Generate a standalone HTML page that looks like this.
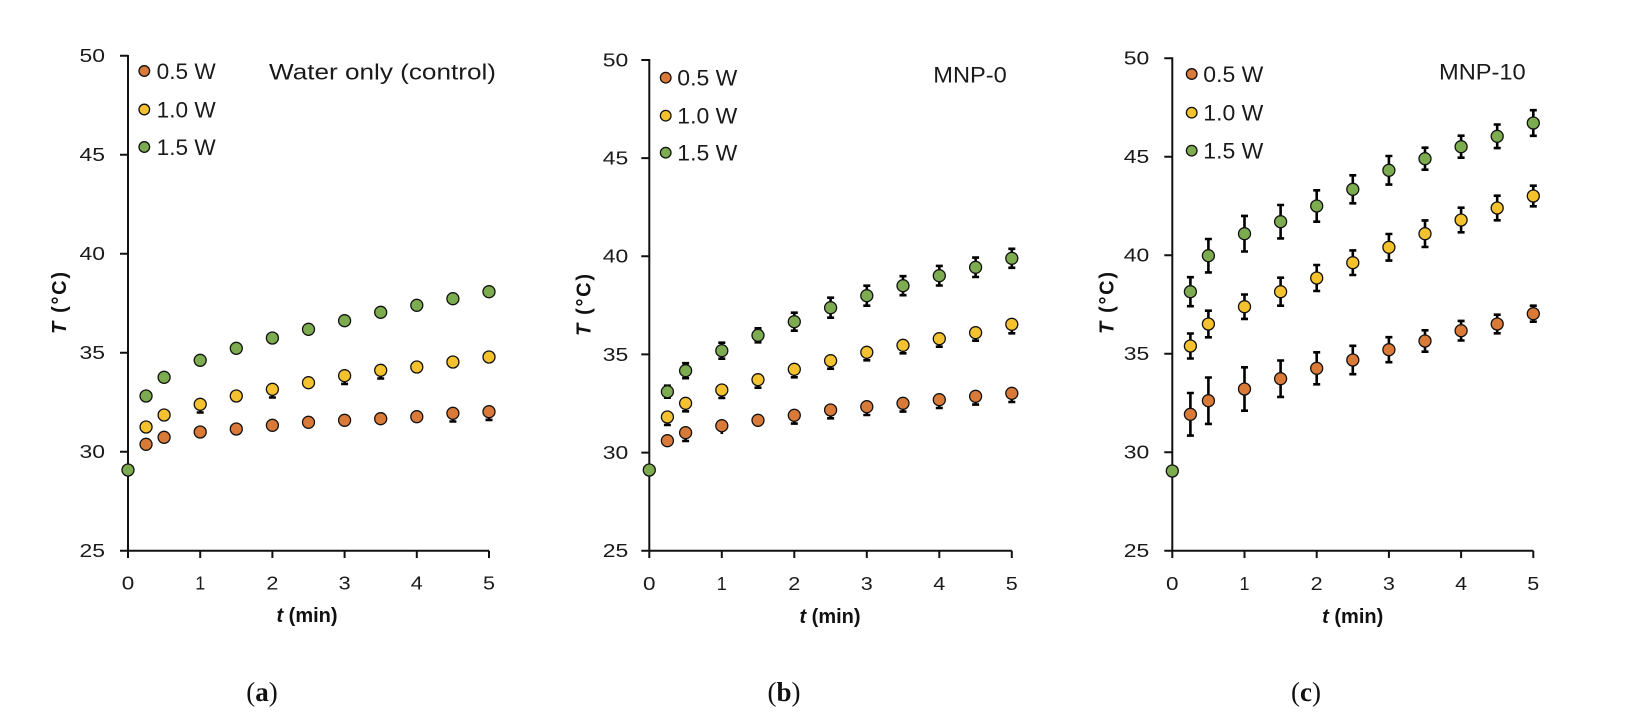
<!DOCTYPE html>
<html><head><meta charset="utf-8">
<style>
html,body{margin:0;padding:0;background:#fff}
svg{display:block}
.o{fill:#DA7A39}.y{fill:#F4C22E}.g{fill:#7DAB4F}
circle{stroke:#111;stroke-width:1.3}
.ax{stroke:#111;stroke-width:2;fill:none}
.eb{stroke:#000;stroke-width:2.6;fill:none}
.tk{font-size:18px;fill:#1a1a1a}
.lg{font-size:22px;fill:#1a1a1a}
.al{font-size:20px;font-weight:bold;fill:#111}
.cap{font-family:"Liberation Serif",serif;font-size:27px;fill:#111}
</style></head><body>
<svg width="1636" height="724" viewBox="0 0 1636 724" xmlns="http://www.w3.org/2000/svg" font-family="Liberation Sans, sans-serif">
<rect width="1636" height="724" fill="#fff"/>

<!-- ================= PANEL A ================= -->
<g>
<path class="ax" d="M128,55 V551.7 M127,550.7 H489 M120,55.7 H128 M120,154.7 H128 M120,253.7 H128 M120,352.7 H128 M120,451.7 H128 M120,550.7 H128 M128,550.7 V558 M200.2,550.7 V558 M272.4,550.7 V558 M344.6,550.7 V558 M416.8,550.7 V558 M489,550.7 V558"/>
<g class="tk" text-anchor="end">
<text x="105" y="62.1" textLength="25.5" lengthAdjust="spacingAndGlyphs">50</text>
<text x="105" y="161.1" textLength="25.5" lengthAdjust="spacingAndGlyphs">45</text>
<text x="105" y="260.1" textLength="25.5" lengthAdjust="spacingAndGlyphs">40</text>
<text x="105" y="359.1" textLength="25.5" lengthAdjust="spacingAndGlyphs">35</text>
<text x="105" y="458.1" textLength="25.5" lengthAdjust="spacingAndGlyphs">30</text>
<text x="105" y="557.1" textLength="25.5" lengthAdjust="spacingAndGlyphs">25</text>
</g>
<g class="tk" text-anchor="middle">
<text x="128" y="589.5" textLength="12.5" lengthAdjust="spacingAndGlyphs">0</text><text x="200.2" y="589.5">1</text><text x="272.4" y="589.5" textLength="12" lengthAdjust="spacingAndGlyphs">2</text><text x="344.6" y="589.5" textLength="12" lengthAdjust="spacingAndGlyphs">3</text><text x="416.8" y="589.5" textLength="12" lengthAdjust="spacingAndGlyphs">4</text><text x="489" y="589.5" textLength="12" lengthAdjust="spacingAndGlyphs">5</text>
</g>
<text class="al" transform="translate(66,303) rotate(-90)" text-anchor="middle" textLength="62"><tspan font-style="italic">T</tspan> (°C)</text>
<text class="al" x="307" y="622" text-anchor="middle"><tspan font-style="italic">t</tspan> (min)</text>
<text class="cap" x="262" y="701" text-anchor="middle">(<tspan font-weight="bold">a</tspan>)</text>
<circle class="o" cx="144.3" cy="71" r="5.3"/><circle class="y" cx="144.3" cy="109.5" r="5.3"/><circle class="g" cx="144.3" cy="147" r="5.3"/>
<text class="lg" x="156.7" y="79" textLength="59" lengthAdjust="spacingAndGlyphs">0.5 W</text>
<text class="lg" x="156.7" y="117.5" textLength="59" lengthAdjust="spacingAndGlyphs">1.0 W</text>
<text class="lg" x="156.7" y="155" textLength="59" lengthAdjust="spacingAndGlyphs">1.5 W</text>
<text class="lg" x="269" y="79.3" textLength="227" lengthAdjust="spacingAndGlyphs">Water only (control)</text>
<path class="eb" d="M200.2,404.3 V412.5 M196.7,412.5 H203.7 M272.4,389.3 V397.5 M268.9,397.5 H275.9 M344.6,375.7 V383.9 M341.1,383.9 H348.1 M380.7,370.3 V378.5 M377.2,378.5 H384.2 M452.9,413.3 V421.5 M449.4,421.5 H456.4 M489,411.7 V419.9 M485.5,419.9 H492.5"/>
<circle class="o" cx="146.05" cy="444.3" r="6"/><circle class="o" cx="164.1" cy="437.3" r="6"/><circle class="o" cx="200.2" cy="432" r="6"/><circle class="o" cx="236.3" cy="429" r="6"/><circle class="o" cx="272.4" cy="425.3" r="6"/><circle class="o" cx="308.5" cy="422.3" r="6"/><circle class="o" cx="344.6" cy="420.3" r="6"/><circle class="o" cx="380.7" cy="418.7" r="6"/><circle class="o" cx="416.8" cy="416.7" r="6"/><circle class="o" cx="452.9" cy="413.3" r="6"/><circle class="o" cx="489" cy="411.7" r="6"/>
<circle class="y" cx="146.05" cy="427" r="6"/><circle class="y" cx="164.1" cy="415" r="6"/><circle class="y" cx="200.2" cy="404.3" r="6"/><circle class="y" cx="236.3" cy="396" r="6"/><circle class="y" cx="272.4" cy="389.3" r="6"/><circle class="y" cx="308.5" cy="382.7" r="6"/><circle class="y" cx="344.6" cy="375.7" r="6"/><circle class="y" cx="380.7" cy="370.3" r="6"/><circle class="y" cx="416.8" cy="367" r="6"/><circle class="y" cx="452.9" cy="362" r="6"/><circle class="y" cx="489" cy="357" r="6"/>
<circle class="g" cx="128" cy="470" r="6"/><circle class="g" cx="146.05" cy="396" r="6"/><circle class="g" cx="164.1" cy="377.3" r="6"/><circle class="g" cx="200.2" cy="360.3" r="6"/><circle class="g" cx="236.3" cy="348.3" r="6"/><circle class="g" cx="272.4" cy="338" r="6"/><circle class="g" cx="308.5" cy="329.3" r="6"/><circle class="g" cx="344.6" cy="320.7" r="6"/><circle class="g" cx="380.7" cy="312.3" r="6"/><circle class="g" cx="416.8" cy="305.3" r="6"/><circle class="g" cx="452.9" cy="298.7" r="6"/><circle class="g" cx="489" cy="291.7" r="6"/>
</g>

<!-- ================= PANEL B ================= -->
<g>
<path class="ax" d="M649.3,59 V551.7 M648.3,550.7 H1011.8 M641.3,60 H649.3 M641.3,158.1 H649.3 M641.3,256.3 H649.3 M641.3,354.4 H649.3 M641.3,452.6 H649.3 M641.3,550.7 H649.3 M649.3,550.7 V558 M721.8,550.7 V558 M794.3,550.7 V558 M866.8,550.7 V558 M939.3,550.7 V558 M1011.8,550.7 V558"/>
<g class="tk" text-anchor="end">
<text x="628.3" y="66.4" textLength="25.5" lengthAdjust="spacingAndGlyphs">50</text>
<text x="628.3" y="164.5" textLength="25.5" lengthAdjust="spacingAndGlyphs">45</text>
<text x="628.3" y="262.7" textLength="25.5" lengthAdjust="spacingAndGlyphs">40</text>
<text x="628.3" y="360.8" textLength="25.5" lengthAdjust="spacingAndGlyphs">35</text>
<text x="628.3" y="459" textLength="25.5" lengthAdjust="spacingAndGlyphs">30</text>
<text x="628.3" y="557.1" textLength="25.5" lengthAdjust="spacingAndGlyphs">25</text>
</g>
<g class="tk" text-anchor="middle">
<text x="649.3" y="590" textLength="12.5" lengthAdjust="spacingAndGlyphs">0</text><text x="721.8" y="590">1</text><text x="794.3" y="590" textLength="12" lengthAdjust="spacingAndGlyphs">2</text><text x="866.8" y="590" textLength="12" lengthAdjust="spacingAndGlyphs">3</text><text x="939.3" y="590" textLength="12" lengthAdjust="spacingAndGlyphs">4</text><text x="1011.8" y="590" textLength="12" lengthAdjust="spacingAndGlyphs">5</text>
</g>
<text class="al" transform="translate(590.3,305) rotate(-90)" text-anchor="middle" textLength="62"><tspan font-style="italic">T</tspan> (°C)</text>
<text class="al" x="830" y="623" text-anchor="middle"><tspan font-style="italic">t</tspan> (min)</text>
<text class="cap" x="784" y="701" text-anchor="middle">(<tspan font-weight="bold">b</tspan>)</text>
<circle class="o" cx="665.7" cy="77.7" r="5.3"/><circle class="y" cx="665.7" cy="115.7" r="5.3"/><circle class="g" cx="665.7" cy="152.7" r="5.3"/>
<text class="lg" x="677.3" y="85.7" textLength="60" lengthAdjust="spacingAndGlyphs">0.5 W</text>
<text class="lg" x="677.3" y="123.7" textLength="60" lengthAdjust="spacingAndGlyphs">1.0 W</text>
<text class="lg" x="677.3" y="160.7" textLength="60" lengthAdjust="spacingAndGlyphs">1.5 W</text>
<text class="lg" x="933.3" y="82.3" textLength="73.4" lengthAdjust="spacingAndGlyphs">MNP-0</text>
<path class="eb" d="
M667.4,385.7 V397.7 M663.9,385.7 H670.9 M663.9,397.7 H670.9
M685.6,363.2 V378.2 M682.1,363.2 H689.1 M682.1,378.2 H689.1
M721.8,342.7 V358.7 M718.3,342.7 H725.3 M718.3,358.7 H725.3
M758,328.3 V342.3 M754.5,328.3 H761.5 M754.5,342.3 H761.5
M794.3,312.7 V330.7 M790.8,312.7 H797.8 M790.8,330.7 H797.8
M830.6,297.7 V317.7 M827.1,297.7 H834.1 M827.1,317.7 H834.1
M866.8,285.7 V305.7 M863.3,285.7 H870.3 M863.3,305.7 H870.3
M903,276.2 V295.2 M899.5,276.2 H906.5 M899.5,295.2 H906.5
M939.3,265.9 V285.5 M935.8,265.9 H942.8 M935.8,285.5 H942.8
M975.6,257.6 V277 M972.1,257.6 H979.1 M972.1,277 H979.1
M1011.8,248.8 V267.8 M1008.3,248.8 H1015.3 M1008.3,267.8 H1015.3
M667.4,417 V425 M663.9,425 H670.9 M685.6,403.3 V411.3 M682.1,411.3 H689.1 M721.8,390 V398 M718.3,398 H725.3 M758,379.7 V387.7 M754.5,387.7 H761.5 M794.3,369.3 V377.3 M790.8,377.3 H797.8 M830.6,360.7 V368.7 M827.1,368.7 H834.1 M866.8,352.3 V360.3 M863.3,360.3 H870.3 M903,345.3 V353.3 M899.5,353.3 H906.5 M939.3,338.7 V346.7 M935.8,346.7 H942.8 M975.6,332.7 V340.7 M972.1,340.7 H979.1 M1011.8,324.3 V333.3 M1008.3,333.3 H1015.3
M685.6,432.7 V441 M682.1,441 H689.1 M721.8,425.7 V434 M794.3,415.3 V423.6 M790.8,423.6 H797.8 M830.6,410 V418.3 M827.1,418.3 H834.1 M866.8,406.7 V415 M863.3,415 H870.3 M903,403.3 V411.6 M899.5,411.6 H906.5 M939.3,399.7 V408 M935.8,408 H942.8 M975.6,396.3 V404.6 M972.1,404.6 H979.1 M1011.8,393.3 V402 M1008.3,402 H1015.3"/>
<circle class="o" cx="667.4" cy="440.7" r="6"/><circle class="o" cx="685.6" cy="432.7" r="6"/><circle class="o" cx="721.8" cy="425.7" r="6"/><circle class="o" cx="758" cy="420.3" r="6"/><circle class="o" cx="794.3" cy="415.3" r="6"/><circle class="o" cx="830.6" cy="410" r="6"/><circle class="o" cx="866.8" cy="406.7" r="6"/><circle class="o" cx="903" cy="403.3" r="6"/><circle class="o" cx="939.3" cy="399.7" r="6"/><circle class="o" cx="975.6" cy="396.3" r="6"/><circle class="o" cx="1011.8" cy="393.3" r="6"/>
<circle class="y" cx="667.4" cy="417" r="6"/><circle class="y" cx="685.6" cy="403.3" r="6"/><circle class="y" cx="721.8" cy="390" r="6"/><circle class="y" cx="758" cy="379.7" r="6"/><circle class="y" cx="794.3" cy="369.3" r="6"/><circle class="y" cx="830.6" cy="360.7" r="6"/><circle class="y" cx="866.8" cy="352.3" r="6"/><circle class="y" cx="903" cy="345.3" r="6"/><circle class="y" cx="939.3" cy="338.7" r="6"/><circle class="y" cx="975.6" cy="332.7" r="6"/><circle class="y" cx="1011.8" cy="324.3" r="6"/>
<circle class="g" cx="649.3" cy="470" r="6"/><circle class="g" cx="667.4" cy="391.7" r="6"/><circle class="g" cx="685.6" cy="370.7" r="6"/><circle class="g" cx="721.8" cy="350.7" r="6"/><circle class="g" cx="758" cy="335.3" r="6"/><circle class="g" cx="794.3" cy="321.7" r="6"/><circle class="g" cx="830.6" cy="307.7" r="6"/><circle class="g" cx="866.8" cy="295.7" r="6"/><circle class="g" cx="903" cy="285.7" r="6"/><circle class="g" cx="939.3" cy="275.7" r="6"/><circle class="g" cx="975.6" cy="267.3" r="6"/><circle class="g" cx="1011.8" cy="258.3" r="6"/>
</g>

<!-- ================= PANEL C ================= -->
<g>
<path class="ax" d="M1172.3,57.3 V551.7 M1171.3,550.7 H1533.3 M1164.3,58.3 H1172.3 M1164.3,156.8 H1172.3 M1164.3,255.2 H1172.3 M1164.3,353.7 H1172.3 M1164.3,452.2 H1172.3 M1164.3,550.7 H1172.3 M1172.3,550.7 V558 M1244.5,550.7 V558 M1316.7,550.7 V558 M1388.9,550.7 V558 M1461.1,550.7 V558 M1533.3,550.7 V558"/>
<g class="tk" text-anchor="end">
<text x="1149.3" y="64.7" textLength="25.5" lengthAdjust="spacingAndGlyphs">50</text>
<text x="1149.3" y="163.2" textLength="25.5" lengthAdjust="spacingAndGlyphs">45</text>
<text x="1149.3" y="261.6" textLength="25.5" lengthAdjust="spacingAndGlyphs">40</text>
<text x="1149.3" y="360.1" textLength="25.5" lengthAdjust="spacingAndGlyphs">35</text>
<text x="1149.3" y="458.6" textLength="25.5" lengthAdjust="spacingAndGlyphs">30</text>
<text x="1149.3" y="557.1" textLength="25.5" lengthAdjust="spacingAndGlyphs">25</text>
</g>
<g class="tk" text-anchor="middle">
<text x="1172.3" y="590" textLength="12.5" lengthAdjust="spacingAndGlyphs">0</text><text x="1244.5" y="590">1</text><text x="1316.7" y="590" textLength="12" lengthAdjust="spacingAndGlyphs">2</text><text x="1388.9" y="590" textLength="12" lengthAdjust="spacingAndGlyphs">3</text><text x="1461.1" y="590" textLength="12" lengthAdjust="spacingAndGlyphs">4</text><text x="1533.3" y="590" textLength="12" lengthAdjust="spacingAndGlyphs">5</text>
</g>
<text class="al" transform="translate(1113.7,303) rotate(-90)" text-anchor="middle" textLength="62"><tspan font-style="italic">T</tspan> (°C)</text>
<text class="al" x="1352.7" y="623" text-anchor="middle"><tspan font-style="italic">t</tspan> (min)</text>
<text class="cap" x="1306" y="701" text-anchor="middle">(<tspan font-weight="bold">c</tspan>)</text>
<circle class="o" cx="1191.7" cy="74" r="5.3"/><circle class="y" cx="1191.7" cy="112.7" r="5.3"/><circle class="g" cx="1191.7" cy="150.7" r="5.3"/>
<text class="lg" x="1203.3" y="82" textLength="60" lengthAdjust="spacingAndGlyphs">0.5 W</text>
<text class="lg" x="1203.3" y="120.7" textLength="60" lengthAdjust="spacingAndGlyphs">1.0 W</text>
<text class="lg" x="1203.3" y="158.7" textLength="60" lengthAdjust="spacingAndGlyphs">1.5 W</text>
<text class="lg" x="1439" y="79.3" textLength="86.7" lengthAdjust="spacingAndGlyphs">MNP-10</text>
<path class="eb" d="
M1190.4,277.2 V306.2 M1186.9,277.2 H1193.9 M1186.9,306.2 H1193.9
M1208.4,239 V272.4 M1204.9,239 H1211.9 M1204.9,272.4 H1211.9
M1244.5,215.9 V251.5 M1241,215.9 H1248 M1241,251.5 H1248
M1280.6,205 V238.4 M1277.1,205 H1284.1 M1277.1,238.4 H1284.1
M1316.7,190.3 V221.7 M1313.2,190.3 H1320.2 M1313.2,221.7 H1320.2
M1352.8,175.3 V203.3 M1349.3,175.3 H1356.3 M1349.3,203.3 H1356.3
M1388.9,156 V184.6 M1385.4,156 H1392.4 M1385.4,184.6 H1392.4
M1425,147.7 V169.7 M1421.5,147.7 H1428.5 M1421.5,169.7 H1428.5
M1461.1,135.7 V157.7 M1457.6,135.7 H1464.6 M1457.6,157.7 H1464.6
M1497.2,124.5 V148.1 M1493.7,124.5 H1500.7 M1493.7,148.1 H1500.7
M1533.3,110.2 V135.8 M1529.8,110.2 H1536.8 M1529.8,135.8 H1536.8
M1190.4,333.5 V358.5 M1186.9,333.5 H1193.9 M1186.9,358.5 H1193.9
M1208.4,310.7 V337.3 M1204.9,310.7 H1211.9 M1204.9,337.3 H1211.9
M1244.5,294.5 V318.9 M1241,294.5 H1248 M1241,318.9 H1248
M1280.6,277.7 V305.7 M1277.1,277.7 H1284.1 M1277.1,305.7 H1284.1
M1316.7,265 V291 M1313.2,265 H1320.2 M1313.2,291 H1320.2
M1352.8,250.4 V275 M1349.3,250.4 H1356.3 M1349.3,275 H1356.3
M1388.9,234 V260.6 M1385.4,234 H1392.4 M1385.4,260.6 H1392.4
M1425,220.4 V247 M1421.5,220.4 H1428.5 M1421.5,247 H1428.5
M1461.1,207.7 V232.3 M1457.6,207.7 H1464.6 M1457.6,232.3 H1464.6
M1497.2,195.7 V220.3 M1493.7,195.7 H1500.7 M1493.7,220.3 H1500.7
M1533.3,185.7 V206.3 M1529.8,185.7 H1536.8 M1529.8,206.3 H1536.8
M1190.4,393 V435.6 M1186.9,393 H1193.9 M1186.9,435.6 H1193.9
M1208.4,377.5 V423.9 M1204.9,377.5 H1211.9 M1204.9,423.9 H1211.9
M1244.5,367.3 V410.7 M1241,367.3 H1248 M1241,410.7 H1248
M1280.6,360.5 V396.9 M1277.1,360.5 H1284.1 M1277.1,396.9 H1284.1
M1316.7,352.3 V384.3 M1313.2,352.3 H1320.2 M1313.2,384.3 H1320.2
M1352.8,345.8 V374.2 M1349.3,345.8 H1356.3 M1349.3,374.2 H1356.3
M1388.9,337.2 V362.2 M1385.4,337.2 H1392.4 M1385.4,362.2 H1392.4
M1425,330.3 V351.7 M1421.5,330.3 H1428.5 M1421.5,351.7 H1428.5
M1461.1,320.9 V340.5 M1457.6,320.9 H1464.6 M1457.6,340.5 H1464.6
M1497.2,314.7 V333.3 M1493.7,314.7 H1500.7 M1493.7,333.3 H1500.7
M1533.3,305.7 V321.7 M1529.8,305.7 H1536.8 M1529.8,321.7 H1536.8"/>
<circle class="o" cx="1190.4" cy="414.3" r="6"/><circle class="o" cx="1208.4" cy="400.7" r="6"/><circle class="o" cx="1244.5" cy="389" r="6"/><circle class="o" cx="1280.6" cy="378.7" r="6"/><circle class="o" cx="1316.7" cy="368.3" r="6"/><circle class="o" cx="1352.8" cy="360" r="6"/><circle class="o" cx="1388.9" cy="349.7" r="6"/><circle class="o" cx="1425" cy="341" r="6"/><circle class="o" cx="1461.1" cy="330.7" r="6"/><circle class="o" cx="1497.2" cy="324" r="6"/><circle class="o" cx="1533.3" cy="313.7" r="6"/>
<circle class="y" cx="1190.4" cy="346" r="6"/><circle class="y" cx="1208.4" cy="324" r="6"/><circle class="y" cx="1244.5" cy="306.7" r="6"/><circle class="y" cx="1280.6" cy="291.7" r="6"/><circle class="y" cx="1316.7" cy="278" r="6"/><circle class="y" cx="1352.8" cy="262.7" r="6"/><circle class="y" cx="1388.9" cy="247.3" r="6"/><circle class="y" cx="1425" cy="233.7" r="6"/><circle class="y" cx="1461.1" cy="220" r="6"/><circle class="y" cx="1497.2" cy="208" r="6"/><circle class="y" cx="1533.3" cy="196" r="6"/>
<circle class="g" cx="1172.3" cy="471" r="6"/><circle class="g" cx="1190.4" cy="291.7" r="6"/><circle class="g" cx="1208.4" cy="255.7" r="6"/><circle class="g" cx="1244.5" cy="233.7" r="6"/><circle class="g" cx="1280.6" cy="221.7" r="6"/><circle class="g" cx="1316.7" cy="206" r="6"/><circle class="g" cx="1352.8" cy="189.3" r="6"/><circle class="g" cx="1388.9" cy="170.3" r="6"/><circle class="g" cx="1425" cy="158.7" r="6"/><circle class="g" cx="1461.1" cy="146.7" r="6"/><circle class="g" cx="1497.2" cy="136.3" r="6"/><circle class="g" cx="1533.3" cy="123" r="6"/>
</g>
</svg>
</body></html>
